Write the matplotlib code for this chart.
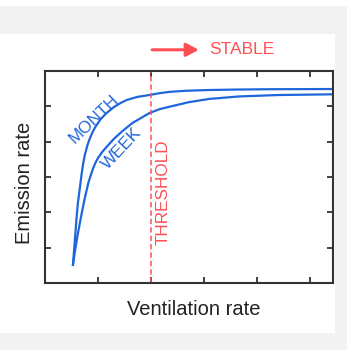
import matplotlib
matplotlib.use("Agg")
import matplotlib.pyplot as plt
from matplotlib.patches import Rectangle

plt.rcParams['font.family'] = ['Liberation Sans', 'DejaVu Sans']

# values (x: ventilation, y: emission)
month_x = [0.525, 0.56, 0.59, 0.62, 0.66, 0.69, 0.72, 0.75, 0.80, 0.84, 0.90, 0.95,
           1.05, 1.16, 1.30, 1.42, 1.54, 1.75, 1.97, 2.15, 2.35, 2.65, 3.04, 3.6,
           4.3, 5.43]
month_y = [0.48, 1.15, 1.75, 2.26, 2.72, 3.08, 3.38, 3.62, 3.90, 4.07, 4.28, 4.42,
           4.64, 4.81, 4.98, 5.09, 5.18, 5.27, 5.32, 5.37, 5.41, 5.44, 5.46, 5.475,
           5.485, 5.49]
week_x = [0.525, 0.56, 0.61, 0.66, 0.70, 0.75, 0.82, 0.90, 0.95, 1.00, 1.08, 1.16,
          1.30, 1.46, 1.65, 1.97, 2.16, 2.35, 2.72, 3.1, 3.66, 4.4, 5.43]
week_y = [0.48, 0.85, 1.32, 1.72, 2.03, 2.40, 2.85, 3.22, 3.40, 3.54, 3.71, 3.85,
          4.08, 4.30, 4.53, 4.81, 4.92, 4.99, 5.12, 5.21, 5.28, 5.32, 5.34]
threshold = 2.0
ticks = [1, 2, 3, 4, 5]

blue = "#1f66db"
red = "#ff4f55"
dark = "#222222"

fig = plt.figure(figsize=(3.47, 3.5), dpi=100)
fig.patch.set_facecolor("#f2f2f2")

# background: white panel and top strip, in pixel units
bg = fig.add_axes([0, 0, 1, 1], zorder=-1)
bg.set_xlim(0, 347)
bg.set_ylim(350, 0)
bg.axis("off")
bg.add_patch(Rectangle((0, 34), 335.5, 299, facecolor="white", edgecolor="none"))
bg.add_patch(Rectangle((0, 0), 347, 6, facecolor="white", edgecolor="none"))

ax = fig.add_axes([45 / 347, 67 / 350, 288 / 347, 212 / 350], zorder=1)
ax.set_facecolor("none")
ax.set_xlim(0, 5.43)
ax.set_ylim(0, 6)
ax.set_xticks(ticks)
ax.set_yticks(ticks)
ax.tick_params(direction="in", length=4, width=1.3, color="#333333",
               top=True, right=True, labelbottom=False, labelleft=False)
for s in ax.spines.values():
    s.set_linewidth(1.5)
    s.set_color("#333333")

ax.plot(month_x, month_y, color=blue, lw=1.6, solid_capstyle="butt")
ax.plot(week_x, week_y, color=blue, lw=1.6, solid_capstyle="butt")
ax.axvline(threshold, color=red, lw=1.1, ls=(0, (3.5, 2)))

ax.text(0.93, 4.63, "MONTH", color=blue, fontsize=12.3, rotation=44,
        ha="center", va="center")
ax.text(1.45, 3.8, "WEEK", color=blue, fontsize=12.3, rotation=47,
        ha="center", va="center")
ax.text(2.22, 2.58, "THRESHOLD", color=red, fontsize=12.3, rotation=90,
        ha="center", va="center")

# arrow and label above the axes
ax.annotate("", xy=(2.9, 6.6), xytext=(2.02, 6.6), annotation_clip=False,
            arrowprops=dict(arrowstyle="-|>,head_length=0.75,head_width=0.4",
                            color=red, lw=2.2, shrinkA=0, shrinkB=0))
ax.text(3.09, 6.6, "STABLE", color=red, fontsize=12.5, ha="left",
        va="center", clip_on=False)

fig.text(194 / 347, 35 / 350, "Ventilation rate", color=dark, fontsize=14.5,
         ha="center", va="baseline")
fig.text(24 / 347, (350 - 183) / 350, "Emission rate", color=dark,
         fontsize=14.5, rotation=90, ha="center", va="center")

fig.savefig("out.png", dpi=100, facecolor=fig.get_facecolor())
